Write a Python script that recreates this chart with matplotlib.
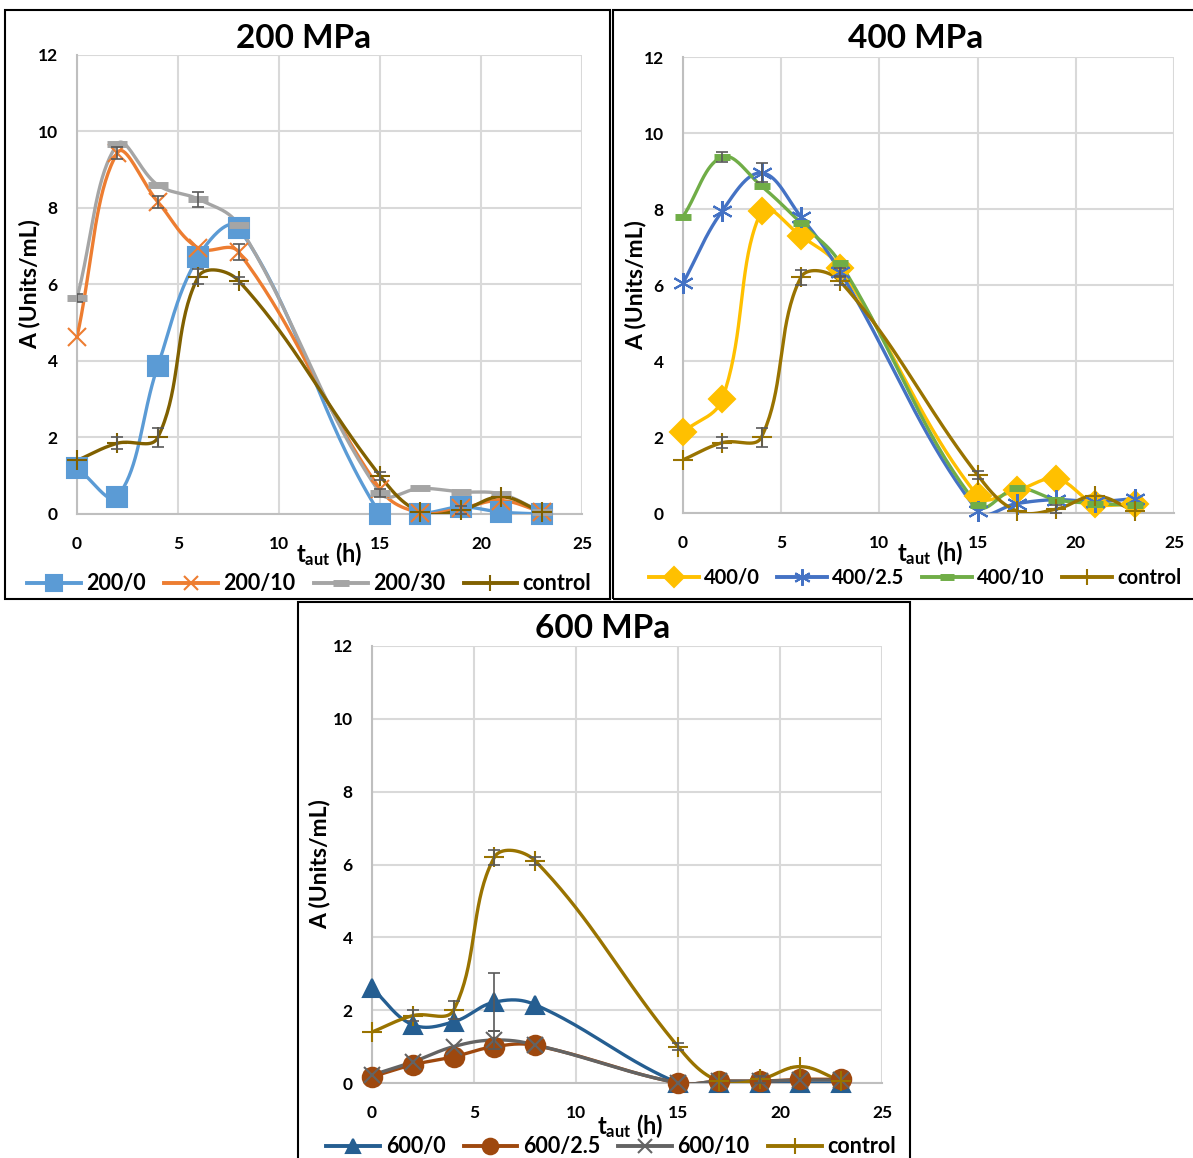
import matplotlib
matplotlib.use("Agg")
import matplotlib.pyplot as plt
import numpy as np
from matplotlib.patches import Rectangle

plt.rcParams['font.family'] = ['Lato', 'DejaVu Sans']
plt.rcParams['font.weight'] = 'bold'
plt.rcParams['mathtext.fontset'] = 'custom'
plt.rcParams['mathtext.rm'] = 'Lato:bold'
plt.rcParams['mathtext.it'] = 'Lato:bold'
plt.rcParams['mathtext.bf'] = 'Lato:bold'

# sampling times (h)
t = [0, 2, 4, 6, 8, 15, 17, 19, 21, 23]

# control (same in all three panels)
control = [1.4, 1.85, 2.0, 6.2, 6.1, 1.0, 0.05, 0.1, 0.45, 0.05]
control_err = [0, 0.15, 0.25, 0.2, 0.1, 0.1, 0, 0.1, 0, 0]

# 200 MPa
a200_0 = [1.2, 0.45, 3.87, 6.72, 7.48, 0.0, 0.0, 0.18, 0.05, 0.0]
a200_10 = [4.63, 9.44, 8.16, 6.95, 6.85, 0.65, 0.03, 0.15, 0.35, 0.05]
a200_30 = [5.65, 9.67, 8.6, 8.23, 7.55, 0.55, 0.67, 0.58, 0.52, 0.05]
a200_10_err = [0, 0.15, 0.15, 0, 0.2, 0, 0, 0, 0, 0]
a200_30_err = [0.1, 0, 0, 0.2, 0, 0.1, 0, 0, 0, 0]

# 400 MPa
a400_0 = [2.13, 3.0, 7.95, 7.29, 6.45, 0.45, 0.6, 0.9, 0.25, 0.25]
a400_25 = [6.05, 7.95, 8.95, 7.8, 6.35, 0.05, 0.25, 0.35, 0.3, 0.38]
a400_10 = [7.8, 9.37, 8.6, 7.63, 6.58, 0.2, 0.65, 0.35, 0.25, 0.2]
a400_25_err = [0, 0, 0.25, 0, 0.1, 0, 0, 0, 0, 0]
a400_10_err = [0, 0.12, 0, 0, 0, 0, 0, 0, 0, 0]

# 600 MPa
a600_0 = [2.6, 1.6, 1.68, 2.22, 2.15, 0.0, 0.0, 0.0, 0.0, 0.0]
a600_25 = [0.17, 0.5, 0.72, 1.0, 1.03, 0.0, 0.05, 0.05, 0.1, 0.1]
a600_10 = [0.22, 0.58, 1.0, 1.18, 1.05, 0.0, 0.05, 0.05, 0.08, 0.08]
a600_0_err = [0, 0, 0, 0.8, 0, 0, 0, 0, 0, 0]
a600_10_err = [0, 0, 0, 0.25, 0, 0, 0, 0, 0, 0]


def smooth(ax, x, y, n=40):
    # Excel-like smoothed line, built in screen space (chord-weighted Bezier)
    pts = ax.transData.transform(np.column_stack([x, y]).astype(float))
    P = np.vstack([pts[0], pts, pts[-1]])
    out = []
    s = np.linspace(0, 1, n)[:, None]
    for i in range(1, len(P) - 2):
        p0, p1, p2, p3 = P[i - 1], P[i], P[i + 1], P[i + 2]
        d01 = np.hypot(*(p1 - p0)); d12 = np.hypot(*(p2 - p1)); d23 = np.hypot(*(p3 - p2))
        k1 = d12 / (d01 + d12) / 2.6 if d01 + d12 > 0 else 0
        k2 = d12 / (d12 + d23) / 2.6 if d12 + d23 > 0 else 0
        c1 = p1 + (p2 - p0) * k1
        c2 = p2 - (p3 - p1) * k2
        seg = (1 - s)**3 * p1 + 3 * (1 - s)**2 * s * c1 + 3 * (1 - s) * s**2 * c2 + s**3 * p2
        out.append(seg if i == 1 else seg[1:])
    return ax.transData.inverted().transform(np.vstack(out))


def setup(ax, xl, ylx):
    ax.set_xlim(0, 25)
    ax.set_ylim(0, 12)
    ax.set_xticks([0, 5, 10, 15, 20, 25])
    ax.set_yticks(range(0, 13, 2))
    ax.grid(True, color='#D9D9D9', lw=1.5)
    ax.set_axisbelow(True)
    for s in ['top', 'right']:
        ax.spines[s].set_visible(False)
    for s in ['left', 'bottom']:
        ax.spines[s].set_color('#BFBFBF')
        ax.spines[s].set_linewidth(1.5)
    ax.tick_params(length=0, labelsize=12.5, pad=16)
    ax.tick_params(axis='y', pad=14)
    ax.set_ylabel('A (Units/mL)', fontsize=16.5, fontweight='bold', va='center')
    ax.yaxis.set_label_coords(ylx, 0.5)
    ax.text(xl[0], xl[1], r'$t_{aut}$ (h)', transform=ax.transAxes, ha='center', va='center', fontsize=17)


def series(ax, y, color, marker, label, err=None, ms=11, mew=1.5, z=3):
    c = smooth(ax, t, y)
    ax.plot(c[:, 0], c[:, 1], color=color, lw=2.4, zorder=z, solid_capstyle='round')
    ax.plot(t, y, ls='none', marker=marker, ms=ms, color=color, mec=color, mew=mew,
            zorder=z + 0.5, clip_on=False)
    if err is not None:
        idx = [i for i, e in enumerate(err) if e > 0]
        ax.errorbar([t[i] for i in idx], [y[i] for i in idx], yerr=[err[i] for i in idx],
                    fmt='none', ecolor='#595959', elinewidth=1.2, capsize=4, capthick=1.2, zorder=z + 0.6)
    ax.plot([], [], color=color, lw=2.8, marker=marker, ms=ms * 0.8, mec=color, mew=mew, label=label)


def legend(ax, xy, fs=15.5):
    ax.legend(loc='center', bbox_to_anchor=xy, ncol=4, frameon=False, fontsize=fs,
              handlelength=2.5, handletextpad=0.25, columnspacing=0.85, borderaxespad=0)


fig = plt.figure(figsize=(11.93, 11.58), dpi=100)
W, H = 1193, 1158

for x0, y0, x1, y1 in [(5, 10, 610, 599), (613, 10, 1196, 599), (298, 602, 910, 1161)]:
    fig.add_artist(Rectangle((x0 / W, 1 - y1 / H), (x1 - x0) / W, (y1 - y0) / H,
                             transform=fig.transFigure, fill=False, ec='black', lw=1.5))

for title, px, py in [('200 MPa', 304, 38), ('400 MPa', 916, 38), ('600 MPa', 603, 628)]:
    fig.text(px / W, 1 - py / H, title, ha='center', va='center', fontsize=24, fontweight='bold')

ax1 = fig.add_axes([77 / W, 1 - 514 / H, 505 / W, 459 / H])
setup(ax1, (0.5, -0.088), -0.093)
series(ax1, a200_0, '#5B9BD5', 's', '200/0', ms=14)
series(ax1, a200_10, '#ED7D31', 'x', '200/10', err=a200_10_err, ms=13)
series(ax1, a200_30, '#A5A5A5', '_', '200/30', err=a200_30_err, ms=14, mew=5)
series(ax1, control, '#806000', '+', 'control', err=control_err, ms=15)
legend(ax1, (0.46, -0.152))

ax2 = fig.add_axes([683 / W, 1 - 513 / H, 491 / W, 456 / H])
setup(ax2, (0.503, -0.088), -0.096)
series(ax2, a400_0, '#FFC000', 'D', '400/0', ms=13)
series(ax2, a400_25, '#4472C4', (6, 2, 0), '400/2.5', err=a400_25_err, ms=15)
series(ax2, a400_10, '#70AD47', '_', '400/10', err=a400_10_err, ms=12, mew=5)
series(ax2, control, '#997300', '+', 'control', err=control_err, ms=15)
legend(ax2, (0.4725, -0.1425), fs=14.5)

ax3 = fig.add_axes([372 / W, 1 - 1083 / H, 510 / W, 437 / H])
setup(ax3, (0.506, -0.098), -0.102)
series(ax3, a600_0, '#255E91', '^', '600/0', err=a600_0_err, ms=13)
series(ax3, a600_25, '#9E480E', 'o', '600/2.5', ms=14)
series(ax3, a600_10, '#636363', 'x', '600/10', err=a600_10_err, ms=12)
series(ax3, control, '#997300', '+', 'control', err=control_err, ms=15)
legend(ax3, (0.469, -0.146))

fig.savefig('out.png', dpi=100)
